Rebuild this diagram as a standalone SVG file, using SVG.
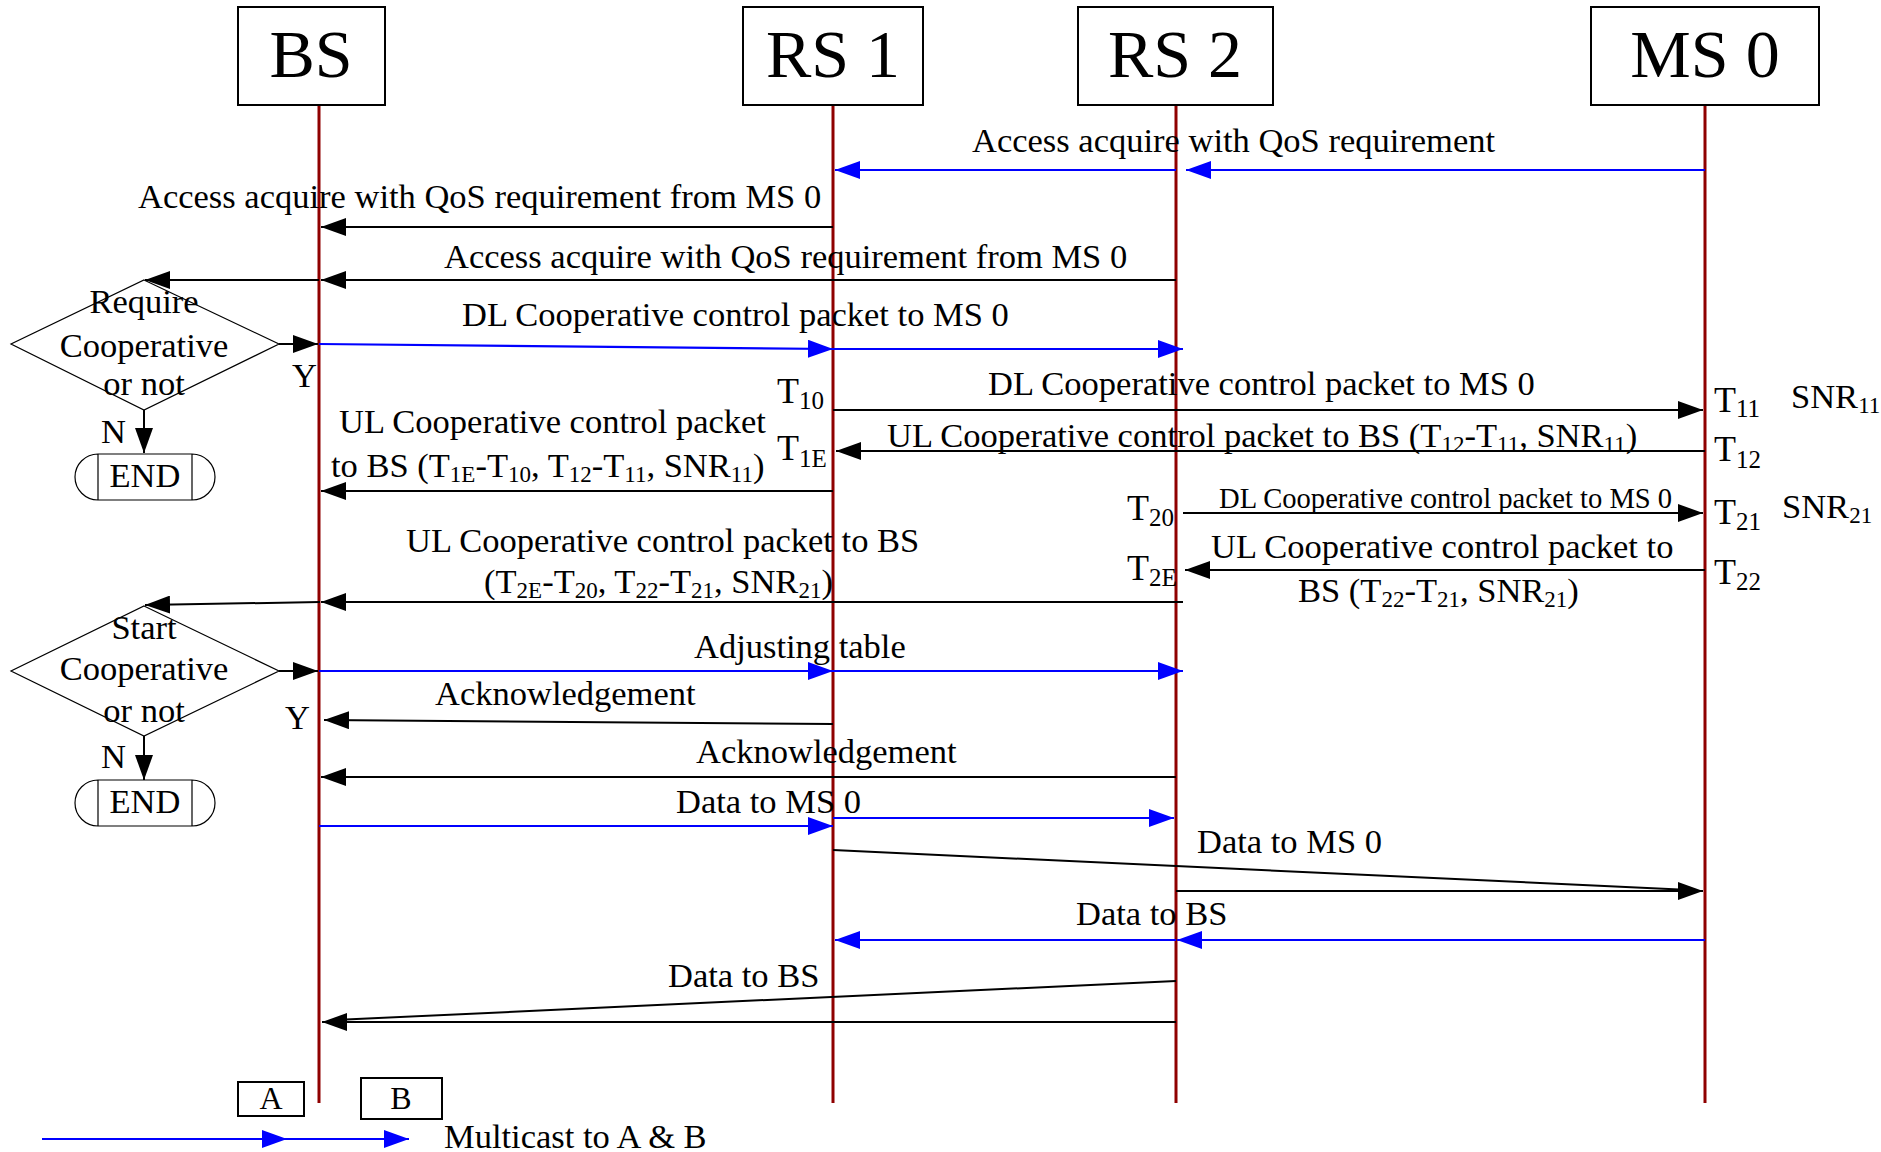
<svg xmlns="http://www.w3.org/2000/svg" width="1881" height="1152" viewBox="0 0 1881 1152">
<style>
text{font-family:"Liberation Serif","Times New Roman",serif;fill:#000;}
.hd{font-size:68px;text-anchor:middle;}
.t{font-size:34.5px;}
.sm{font-size:28.6px;}
.c{text-anchor:middle;}
.T{font-size:36px;}
.box{fill:#fff;stroke:#000;stroke-width:2;}
.life{stroke:#8f0000;stroke-width:3;fill:none;}
.k{stroke:#000;stroke-width:2;fill:none;marker-end:url(#ak);}
.kn{stroke:#000;stroke-width:2;fill:none;}
.b{stroke:#0000ff;stroke-width:2.2;fill:none;marker-end:url(#ab);}
.thin{stroke:#000;stroke-width:1.2;fill:none;}
</style>
<defs>
<marker id="ak" markerUnits="userSpaceOnUse" markerWidth="26" markerHeight="18" refX="25" refY="9" orient="auto"><path d="M0,0 L25,9 L0,18 Z" fill="#000"/></marker>
<marker id="ab" markerUnits="userSpaceOnUse" markerWidth="26" markerHeight="18" refX="25" refY="9" orient="auto"><path d="M0,0 L25,9 L0,18 Z" fill="#0000ff"/></marker>
</defs>
<rect width="1881" height="1152" fill="#fff"/>

<g id="lifelines">
<line class="life" x1="319" y1="105" x2="319" y2="1103"/>
<line class="life" x1="833" y1="105" x2="833" y2="1103"/>
<line class="life" x1="1176" y1="105" x2="1176" y2="1103"/>
<line class="life" x1="1705" y1="105" x2="1705" y2="1103"/>
</g>

<g id="node-BS"><rect class="box" x="238" y="7" width="147" height="98"/><text class="hd" x="311" y="77">BS</text></g>
<g id="node-RS1"><rect class="box" x="743" y="7" width="180" height="98"/><text class="hd" x="833" y="77">RS 1</text></g>
<g id="node-RS2"><rect class="box" x="1078" y="7" width="195" height="98"/><text class="hd" x="1175" y="77">RS 2</text></g>
<g id="node-MS0"><rect class="box" x="1591" y="7" width="228" height="98"/><text class="hd" x="1705" y="77">MS 0</text></g>

<g id="decision-1">
<polygon class="thin" points="144,280 279,344 144,410 11,344"/>
<text class="t c" x="144" y="313">Require</text>
<text class="t c" x="144" y="357">Cooperative</text>
<text class="t c" x="144" y="395">or not</text>
</g>
<g id="end-1">
<path class="thin" d="M98,454 L192,454 A23,23 0 0 1 192,500 L98,500 A23,23 0 0 1 98,454 Z M98,454 L98,500 M192,454 L192,500"/>
<text class="t c" x="145" y="487">END</text>
</g>
<g id="decision-2">
<polygon class="thin" points="144,606 279,671 144,736 11,671"/>
<text class="t c" x="144" y="639">Start</text>
<text class="t c" x="144" y="680">Cooperative</text>
<text class="t c" x="144" y="722">or not</text>
</g>
<g id="end-2">
<path class="thin" d="M98,780 L192,780 A23,23 0 0 1 192,826 L98,826 A23,23 0 0 1 98,780 Z M98,780 L98,826 M192,780 L192,826"/>
<text class="t c" x="145" y="813">END</text>
</g>

<g id="legend">
<rect class="box" x="238" y="1082" width="66" height="34"/>
<text x="271" y="1109" font-size="32" text-anchor="middle">A</text>
<rect class="box" x="361" y="1078" width="81" height="41"/>
<text x="401" y="1109" font-size="32" text-anchor="middle">B</text>
<line class="b" x1="42" y1="1139" x2="287" y2="1139"/>
<line class="b" x1="287" y1="1139" x2="409" y2="1139"/>
<text class="t" x="444" y="1148">Multicast to A &amp; B</text>
</g>

<g id="connectors">
<line class="b" x1="1705" y1="170" x2="1186" y2="170"/>
<line class="b" x1="1176" y1="170" x2="835" y2="170"/>
<line class="k" x1="833" y1="227" x2="321" y2="227"/>
<line class="k" x1="1176" y1="280" x2="321" y2="280"/>
<line class="k" x1="319" y1="280" x2="145" y2="280"/>
<line class="k" x1="279" y1="344" x2="318" y2="344"/>
<line class="b" x1="319" y1="344" x2="833" y2="349"/>
<line class="b" x1="833" y1="349" x2="1183" y2="349"/>
<line class="k" x1="144" y1="410" x2="144" y2="453"/>
<line class="k" x1="833" y1="410" x2="1703" y2="410"/>
<line class="k" x1="1705" y1="451" x2="836" y2="451"/>
<line class="k" x1="833" y1="491" x2="321" y2="491"/>
<line class="k" x1="1183" y1="513" x2="1703" y2="513"/>
<line class="k" x1="1705" y1="570" x2="1185" y2="570"/>
<line class="k" x1="1183" y1="602" x2="321" y2="602"/>
<line class="k" x1="320" y1="602" x2="145" y2="605"/>
<line class="k" x1="279" y1="671" x2="318" y2="671"/>
<line class="b" x1="319" y1="671" x2="833" y2="671"/>
<line class="b" x1="833" y1="671" x2="1183" y2="671"/>
<line class="k" x1="833" y1="724" x2="324" y2="720"/>
<line class="k" x1="144" y1="736" x2="144" y2="780"/>
<line class="k" x1="1176" y1="777" x2="321" y2="777"/>
<line class="b" x1="319" y1="826" x2="833" y2="826"/>
<line class="b" x1="833" y1="818" x2="1174" y2="818"/>
<line class="kn" x1="833" y1="850" x2="1690" y2="890"/>
<line class="k" x1="1176" y1="891" x2="1703" y2="891"/>
<line class="b" x1="1705" y1="940" x2="1177" y2="940"/>
<line class="b" x1="1176" y1="940" x2="835" y2="940"/>
<line class="kn" x1="1176" y1="981" x2="335" y2="1020"/>
<line class="k" x1="1176" y1="1022" x2="322" y2="1022"/>
</g>

<g id="labels">
<text class="t" x="972" y="152">Access acquire with QoS requirement</text>
<text class="t" x="138" y="208">Access acquire with QoS requirement from MS 0</text>
<text class="t" x="444" y="268">Access acquire with QoS requirement from MS 0</text>
<text class="t" x="462" y="326">DL Cooperative control packet to MS 0</text>
<text class="t" x="292" y="387">Y</text>
<text class="t" x="101" y="443">N</text>
<text class="T" x="777" y="403">T<tspan font-size="25" dy="6">10</tspan></text>
<text class="t" x="988" y="395">DL Cooperative control packet to MS 0</text>
<text class="T" x="1714" y="412">T<tspan font-size="25" dy="5">11</tspan></text>
<text class="t" x="1791" y="408">SNR<tspan font-size="23" dy="5">11</tspan></text>
<text class="t" x="887" y="447">UL Cooperative control packet to BS (T<tspan font-size="23" dy="5">12</tspan><tspan dy="-5">-T</tspan><tspan font-size="23" dy="5">11</tspan><tspan dy="-5">, SNR</tspan><tspan font-size="23" dy="5">11</tspan><tspan dy="-5">)</tspan></text>
<text class="T" x="1714" y="461">T<tspan font-size="25" dy="7">12</tspan></text>
<text class="T" x="777" y="460">T<tspan font-size="25" dy="7">1E</tspan></text>
<text class="t" x="339" y="433">UL Cooperative control packet</text>
<text class="t" x="331" y="477">to BS (T<tspan font-size="23" dy="5">1E</tspan><tspan dy="-5">-T</tspan><tspan font-size="23" dy="5">10</tspan><tspan dy="-5">, T</tspan><tspan font-size="23" dy="5">12</tspan><tspan dy="-5">-T</tspan><tspan font-size="23" dy="5">11</tspan><tspan dy="-5">, SNR</tspan><tspan font-size="23" dy="5">11</tspan><tspan dy="-5">)</tspan></text>
<text class="T" x="1127" y="520">T<tspan font-size="25" dy="6">20</tspan></text>
<text class="sm" x="1219" y="508">DL Cooperative control packet to MS 0</text>
<text class="T" x="1714" y="524">T<tspan font-size="25" dy="6">21</tspan></text>
<text class="t" x="1782" y="518">SNR<tspan font-size="23" dy="5">21</tspan></text>
<text class="t" x="1211" y="558">UL Cooperative control packet to</text>
<text class="t" x="1298" y="602">BS (T<tspan font-size="23" dy="5">22</tspan><tspan dy="-5">-T</tspan><tspan font-size="23" dy="5">21</tspan><tspan dy="-5">, SNR</tspan><tspan font-size="23" dy="5">21</tspan><tspan dy="-5">)</tspan></text>
<text class="T" x="1714" y="584">T<tspan font-size="25" dy="6">22</tspan></text>
<text class="T" x="1127" y="580">T<tspan font-size="25" dy="6">2E</tspan></text>
<text class="t" x="406" y="552">UL Cooperative control packet to BS</text>
<text class="t" x="484" y="593">(T<tspan font-size="23" dy="5">2E</tspan><tspan dy="-5">-T</tspan><tspan font-size="23" dy="5">20</tspan><tspan dy="-5">, T</tspan><tspan font-size="23" dy="5">22</tspan><tspan dy="-5">-T</tspan><tspan font-size="23" dy="5">21</tspan><tspan dy="-5">, SNR</tspan><tspan font-size="23" dy="5">21</tspan><tspan dy="-5">)</tspan></text>
<text class="t" x="694" y="658">Adjusting table</text>
<text class="t" x="285" y="729">Y</text>
<text class="t" x="435" y="705">Acknowledgement</text>
<text class="t" x="101" y="768">N</text>
<text class="t" x="696" y="763">Acknowledgement</text>
<text class="t" x="676" y="813">Data to MS 0</text>
<text class="t" x="1197" y="853">Data to MS 0</text>
<text class="t" x="1076" y="925">Data to BS</text>
<text class="t" x="668" y="987">Data to BS</text>
</g>
</svg>
